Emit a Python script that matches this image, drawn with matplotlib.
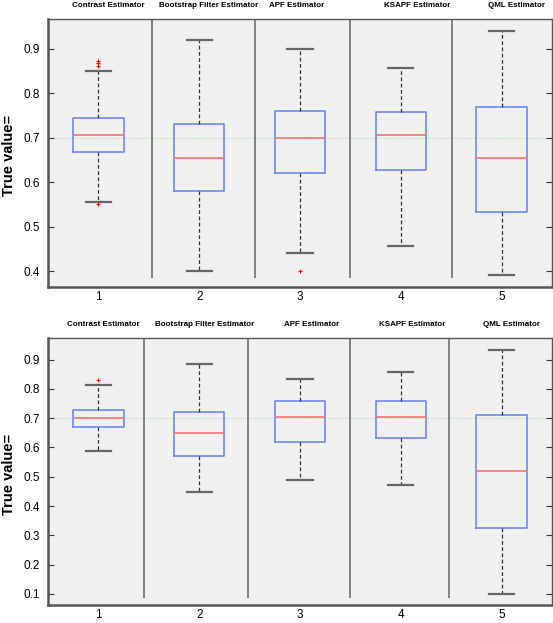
import matplotlib.pyplot as plt
from matplotlib.transforms import blended_transform_factory

# =========================
# DATA
# =========================
estimators = ["Contrast Estimator", "Bootstrap Filter Estimator", "APF Estimator",
              "KSAPF Estimator", "QML Estimator"]
true_value = 0.7

# top panel
top_whislo = [0.555, 0.400, 0.440, 0.456, 0.392]
top_q1 = [0.667, 0.579, 0.620, 0.628, 0.533]
top_med = [0.706, 0.654, 0.700, 0.705, 0.655]
top_q3 = [0.745, 0.730, 0.760, 0.758, 0.770]
top_whishi = [0.850, 0.920, 0.900, 0.857, 0.940]
top_fliers = [[0.873, 0.868, 0.862, 0.550], [], [0.400], [], []]

# bottom panel
bot_whislo = [0.587, 0.448, 0.489, 0.472, 0.100]
bot_q1 = [0.671, 0.571, 0.620, 0.634, 0.325]
bot_med = [0.700, 0.650, 0.703, 0.703, 0.521]
bot_q3 = [0.728, 0.721, 0.758, 0.759, 0.710]
bot_whishi = [0.815, 0.884, 0.834, 0.857, 0.933]
bot_fliers = [[0.832], [], [], [], []]

# =========================
# STYLE
# =========================
plt.rcParams['font.family'] = ['Liberation Sans', 'DejaVu Sans']

BOX_BLUE = "#6f86ff"
MED_RED = "#ff6f6f"
BG = "#f0f0f0"
SEP = "#808080"

fig = plt.figure(figsize=(5.53, 6.23), dpi=100)

panels = [
    dict(rect=[0.0868, 0.5393, 0.9114, 0.4302], ylim=(0.364, 0.967),
         yticks=[0.4, 0.5, 0.6, 0.7, 0.8, 0.9],
         stats=(top_whislo, top_q1, top_med, top_q3, top_whishi, top_fliers),
         title_x=[1.10, 2.09, 2.97, 4.16, 5.15],
         sep_x=[1.53, 2.55, 3.50, 4.51], sep_bottom=0.385),
    dict(rect=[0.0868, 0.0289, 0.9114, 0.4286], ylim=(0.062, 0.974),
         yticks=[0.1, 0.2, 0.3, 0.4, 0.5, 0.6, 0.7, 0.8, 0.9],
         stats=(bot_whislo, bot_q1, bot_med, bot_q3, bot_whishi, bot_fliers),
         title_x=[1.05, 2.05, 3.12, 4.11, 5.10],
         sep_x=[1.455, 2.485, 3.495, 4.475], sep_bottom=0.085),
]

for p in panels:
    ax = fig.add_axes(p["rect"])
    ax.set_facecolor(BG)

    whislo, q1, med, q3, whishi, fliers = p["stats"]
    stats = []
    for i in range(len(estimators)):
        stats.append(dict(whislo=whislo[i], q1=q1[i], med=med[i], q3=q3[i],
                          whishi=whishi[i], fliers=fliers[i], label=str(i + 1)))

    ax.axhline(true_value, color="#9be39b", lw=0.7, ls=(0, (1, 1.5)), zorder=1)

    ax.bxp(stats, positions=range(1, 6), widths=0.5, capwidths=0.25,
           boxprops=dict(color=BOX_BLUE, lw=1.2),
           medianprops=dict(color=MED_RED, lw=1.2),
           whiskerprops=dict(color="#333333", lw=0.9, ls=(0, (3, 2))),
           capprops=dict(color="#666666", lw=1.6),
           flierprops=dict(marker="+", markeredgecolor="red", markersize=3,
                           markeredgewidth=0.8, linestyle="none"))

    ax.vlines(p["sep_x"], p["sep_bottom"], p["ylim"][1], color=SEP, lw=1.4, zorder=2)

    ax.set_xlim(0.5, 5.5)
    ax.set_ylim(*p["ylim"])
    ax.set_yticks(p["yticks"])
    ax.set_yticklabels([f"{v:.1f}" for v in p["yticks"]])
    ax.tick_params(axis="y", direction="in", length=4, width=0.8, right=True,
                   labelsize=8.5, pad=6, colors="#333333", labelcolor="black")
    ax.tick_params(axis="x", length=0, labelsize=8.5, pad=3)

    for side, sp in ax.spines.items():
        sp.set_color("#555555")
        sp.set_linewidth(1.8 if side in ("left", "bottom") else 1.0)

    trans = blended_transform_factory(ax.transData, ax.transAxes)
    for name, x in zip(estimators, p["title_x"]):
        ax.text(x, 1.052, name, transform=trans, ha="center", va="center",
                fontsize=5.8, fontweight="bold")

    ax.set_ylabel("True value=", fontsize=10.5, fontweight="bold")
    ax.yaxis.set_label_coords(-0.064, 0.49)

fig.savefig("out.png", dpi=100)
